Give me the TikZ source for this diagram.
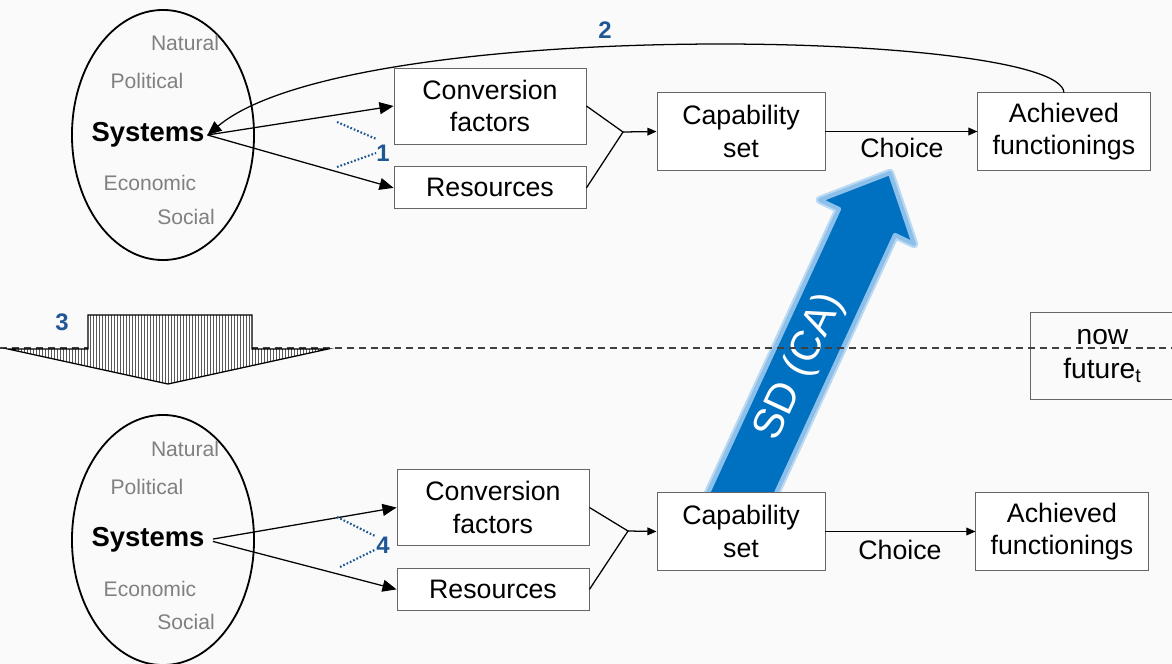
\documentclass[tikz,border=0pt]{standalone}
\usepackage{fontspec}
\setmainfont{Liberation Sans}
\usetikzlibrary{arrows.meta,positioning,shapes.geometric}
\definecolor{numblue}{RGB}{31,87,148}
\definecolor{sdblue}{RGB}{0,112,192}
\definecolor{sdglow}{RGB}{140,192,235}
\definecolor{bg}{RGB}{250,250,250}

\begin{document}
\begin{tikzpicture}[
    x=0.025cm, y=-0.025cm,
    every node/.style={font=\fontsize{19}{23}\selectfont},
    box/.style={draw=gray!80!black, fill=white, line width=0.6pt, align=center, inner sep=0pt},
    convbox/.style={box, minimum width=4.8cm, minimum height=1.9cm},
    resbox/.style={box, minimum width=4.8cm, minimum height=1.05cm},
    capbox/.style={box, minimum width=4.2cm, minimum height=1.93cm},
    achbox/.style={box, minimum width=4.3cm, minimum height=1.93cm},
    world/.style={draw, ellipse, line width=1.3pt, minimum width=4.55cm, minimum height=6.25cm, inner sep=0pt},
    system/.style={font=\fontsize{19.5}{23}\selectfont\bfseries, inner sep=2pt},
    dimension/.style={text=gray, font=\fontsize{15}{18}\selectfont},
    number/.style={text=numblue, font=\fontsize{17}{20}\selectfont\bfseries, inner sep=0pt},
    bigarrow/.style={-{Triangle[length=10pt,width=8.5pt]}, line width=0.9pt},
    smallarrow/.style={-{Triangle[length=6.5pt,width=5.5pt]}, line width=0.9pt},
    dotline/.style={numblue, line width=1.5pt, dash pattern=on 1.2pt off 1.4pt},
    timeline/.style={black!75, line width=0.8pt, dash pattern=on 5pt off 3.5pt}
]

\path[use as bounding box, fill=bg] (0,0) rectangle (1172,664);

% SD (CA) arrow
\draw[sdglow!60, line width=6pt, line join=round] (697,517) -- (839,209) -- (820,200) -- (890,173) -- (914,244) -- (895,235) -- (753,543) -- cycle;
\draw[sdglow, line width=3pt, line join=round, fill=sdblue] (697,517) -- (839,209) -- (820,200) -- (890,173) -- (914,244) -- (895,235) -- (753,543) -- cycle;
\node[rotate=65, text=white, font=\fontsize{30}{34}\selectfont] (sd) at (800,367) {SD (CA)};

% Now
\node[world] (world1) at (163,135) {};
\node[system] (sys1) at (148,135) {Systems};
\node[dimension] (nat1) at (185,43) {Natural};
\node[dimension] (pol1) at (147,81) {Political};
\node[dimension] (eco1) at (150,183) {Economic};
\node[dimension] (soc1) at (186,217) {Social};

\node[convbox] (conv1) at (490,106) {Conversion\\factors};
\node[resbox, below=0.55cm of conv1] (res1) {Resources};
\node[capbox] (cap1) at (741,131.5) {Capability\\set};
\node[achbox, right=3.8cm of cap1] (ach1) {Achieved\\functionings};
\coordinate (join1) at (623,132);
\node (choice1) at (902,148) {Choice};

% Future
\node[world] (world2) at (163,540) {};
\node[system] (sys2) at (148,540) {Systems};
\node[dimension] (nat2) at (185,449) {Natural};
\node[dimension] (pol2) at (147,487) {Political};
\node[dimension] (eco2) at (150,589) {Economic};
\node[dimension] (soc2) at (186,622) {Social};

\node[convbox] (conv2) at (493,507.5) {Conversion\\factors};
\node[resbox, below=0.55cm of conv2] (res2) {Resources};
\node[capbox] (cap2) at (741,531.5) {Capability\\set};
\node[achbox, right=3.75cm of cap2] (ach2) {Achieved\\functionings};
\coordinate (join2) at (628,531);
\node (choice2) at (900,550) {Choice};

% Connections
\draw[bigarrow] (sys1.east) -- (conv1.west);
\draw[bigarrow] (sys1.east) -- (res1.west);
\draw[line width=0.9pt] (conv1.east) -- (join1) -- (res1.east);
\draw[smallarrow] (join1) -- (cap1.west);
\draw[smallarrow] (cap1.east) -- (ach1.west);
\draw[bigarrow] (ach1.north) .. controls (1060,30) and (350,15) .. (sys1.east);

\draw[bigarrow, shorten <=4pt] (sys2.east) -- (conv2.west);
\draw[bigarrow, shorten <=4pt] (sys2.east) -- (res2.west);
\draw[line width=0.9pt] (conv2.east) -- (join2) -- (res2.east);
\draw[smallarrow] (join2) -- (cap2.west);
\draw[smallarrow] (cap2.east) -- (ach2.west);

% Numbers
\node[number] (n1) at (383,153) {1};
\node[number] (n2) at (605,30) {2};
\node[number] (n3) at (62,322) {3};
\node[number] (n4) at (383,545) {4};
\coordinate (d1a) at (337,122);
\coordinate (d1b) at (337,167);
\coordinate (d4a) at (337,517);
\coordinate (d4b) at (340,567);
\draw[dotline] (d1a) -- ([yshift=4pt]n1.north west);
\draw[dotline] (d1b) -- (n1.west);
\draw[dotline] (d4a) -- (n4.north west);
\draw[dotline] (d4b) -- ([yshift=-3pt]n4.west);

% now / future
\node[box, fill=none, minimum width=3.6cm, minimum height=2.175cm, anchor=north west,
      font=\fontsize{20}{24}\selectfont] (nowbox) at (1030,312) {now\\future\textsubscript{t}};
\coordinate (lineL) at (0,348);
\coordinate (lineR) at (1172,348);
\draw[timeline] (lineL) -- (lineR);

% block arrow 3
\draw[line width=0.9pt, fill=white, path picture={
    \foreach \x in {9,12,...,327}
      \draw[gray!70!black, line width=0.35pt] (\x,310) -- (\x,390);
  }] (8,349) -- (88,349) -- (88,315) -- (252,315) -- (252,349) -- (328,349) -- (168,384) -- cycle;

\end{tikzpicture}
\end{document}
